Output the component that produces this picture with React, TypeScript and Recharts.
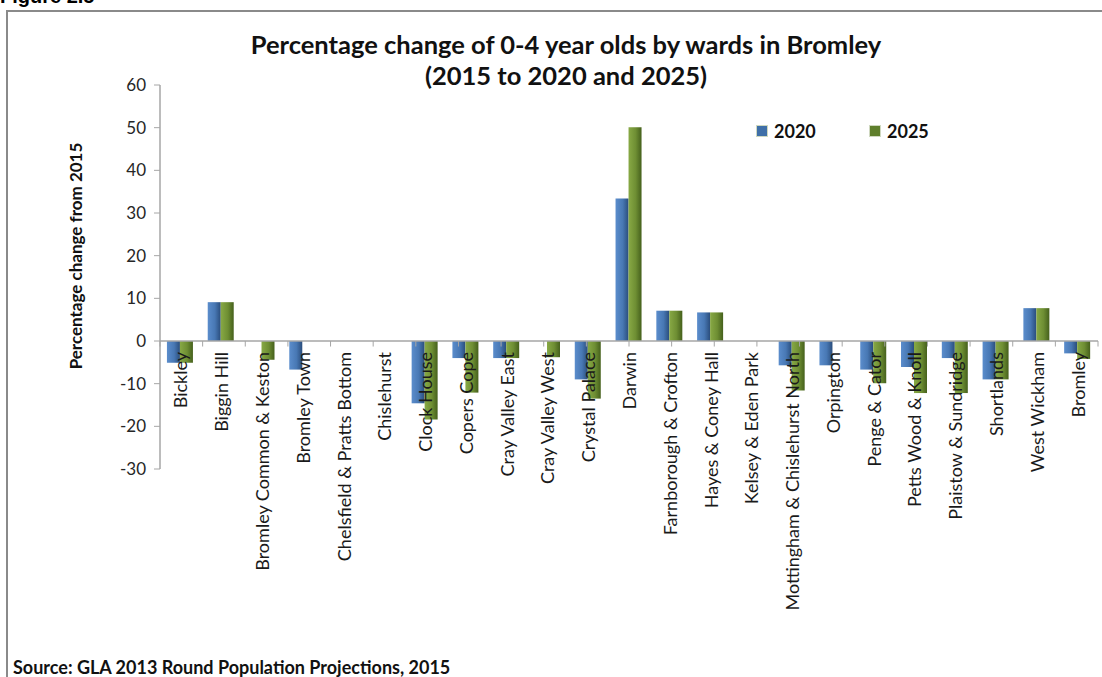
import { BarChart, Bar, XAxis, YAxis, ReferenceLine, ReferenceDot, Legend } from 'recharts';

const wards = [
  'Bickley',
  'Biggin Hill',
  'Bromley Common & Keston',
  'Bromley Town',
  'Chelsfield & Pratts Bottom',
  'Chislehurst',
  'Clock House',
  'Copers Cope',
  'Cray Valley East',
  'Cray Valley West',
  'Crystal Palace',
  'Darwin',
  'Farnborough & Crofton',
  'Hayes & Coney Hall',
  'Kelsey & Eden Park',
  'Mottingham & Chislehurst North',
  'Orpington',
  'Penge & Cator',
  'Petts Wood & Knoll',
  'Plaistow & Sundridge',
  'Shortlands',
  'West Wickham',
  'Bromley',
];

const change2020 = [-5.1, 9.1, 0, -6.7, 0, 0, -14.6, -4.0, -4.0, 0, -9.0, 33.4, 7.1, 6.7, 0, -5.7, -5.7, -6.7, -6.1, -4.0, -9.0, 7.7, -2.9];
const change2025 = [-5.1, 9.1, -4.4, 0, 0, 0, -18.4, -12.1, -4.0, -3.8, -13.5, 50.1, 7.1, 6.7, 0, -11.6, 0, -9.9, -12.2, -12.2, -9.0, 7.7, -4.2];

const yTicks = [-30, -20, -10, 0, 10, 20, 30, 40, 50, 60];
const boundaries = wards.map((_, i) => i).concat(wards.length);

const data = wards.map((ward, i) => ({ ward, y2020: change2020[i], y2025: change2025[i] }));

const series = [
  { key: 'y2020', name: '2020', fill: 'url(#blueBar)', swatch: '#3f6fa8' },
  { key: 'y2025', name: '2025', fill: 'url(#greenBar)', swatch: '#5f7f2c' },
];

const font = 'Lato, "Open Sans", sans-serif';

const renderWardLabel = (props: any) => {
  const { viewBox, value } = props;
  const x = viewBox.x;
  const y = viewBox.y + 11;
  return (
    <text
      x={x}
      y={y}
      transform={`rotate(-90 ${x} ${y})`}
      textAnchor="end"
      dominantBaseline="central"
      fontSize={18}
      fill="#1a1a1a"
      fontFamily={font}
    >
      {value}
    </text>
  );
};

const renderLegend = () => (
  <div style={{ display: 'flex', fontFamily: font, fontWeight: 700, fontSize: 18, color: '#111' }}>
    {series.map((s) => (
      <div key={s.key} style={{ display: 'flex', alignItems: 'center', width: 113 }}>
        <span style={{ width: 10, height: 10, background: s.swatch, marginRight: 6, border: '1px solid #cfd8c0' }} />
        <span>{s.name}</span>
      </div>
    ))}
  </div>
);

export default function App() {
  return (
    <div
      style={{
        position: 'absolute',
        left: 0,
        top: 0,
        width: 1102,
        height: 677,
        background: '#fff',
        overflow: 'hidden',
        fontFamily: font,
      }}
    >
      <div
        style={{
          position: 'absolute',
          left: 0,
          top: -15,
          fontFamily: '"Liberation Sans", Arial, sans-serif',
          fontWeight: 700,
          fontSize: 20,
          color: '#000',
        }}
      >
        Figure 2.5
      </div>
      <div
        style={{
          position: 'absolute',
          left: 6,
          top: 10,
          width: 1200,
          height: 800,
          borderLeft: '2px solid #8a8a8a',
          borderTop: '2px solid #8a8a8a',
        }}
      />
      <div
        style={{
          position: 'absolute',
          left: 0,
          width: 1132,
          top: 29,
          textAlign: 'center',
          fontWeight: 700,
          fontSize: 25.5,
          lineHeight: '31px',
          color: '#111',
        }}
      >
        Percentage change of 0-4 year olds by wards in Bromley
        <br />
        (2015 to 2020 and 2025)
      </div>
      <div
        style={{
          position: 'absolute',
          left: 75,
          top: 256,
          transform: 'translate(-50%, -50%) rotate(-90deg)',
          whiteSpace: 'nowrap',
          fontWeight: 700,
          fontSize: 17,
          color: '#111',
        }}
      >
        Percentage change from 2015
      </div>
      <div
        style={{
          position: 'absolute',
          left: 13,
          top: 656,
          whiteSpace: 'nowrap',
          fontWeight: 700,
          fontSize: 18,
          color: '#111',
        }}
      >
        Source: GLA 2013 Round Population Projections, 2015
      </div>
      <div style={{ position: 'absolute', left: 0, top: 0 }}>
        <BarChart
          width={1102}
          height={677}
          data={data}
          margin={{ top: 85, right: 4, bottom: 208, left: 100 }}
          barCategoryGap="17%"
          barGap={0}
        >
          <defs>
            <linearGradient id="blueBar" x1="0" y1="0" x2="1" y2="0">
              <stop offset="0" stopColor="#5b8dcc" />
              <stop offset="0.55" stopColor="#4878b4" />
              <stop offset="1" stopColor="#2a4d7c" />
            </linearGradient>
            <linearGradient id="greenBar" x1="0" y1="0" x2="1" y2="0">
              <stop offset="0" stopColor="#88a945" />
              <stop offset="0.55" stopColor="#6e8e33" />
              <stop offset="1" stopColor="#45601c" />
            </linearGradient>
          </defs>
          <XAxis xAxisId="cat" dataKey="ward" hide />
          <XAxis xAxisId="grid" type="number" domain={[0, wards.length]} allowDataOverflow hide />
          <YAxis
            width={60}
            domain={[-30, 60]}
            ticks={yTicks}
            interval={0}
            tick={{ fontSize: 17, fill: '#262626', fontFamily: font }}
            tickSize={6}
            tickMargin={8}
            axisLine={{ stroke: '#a6a6a6', strokeWidth: 1.5 }}
            tickLine={{ stroke: '#a6a6a6' }}
          />
          <Legend
            verticalAlign="middle"
            align="center"
            layout="horizontal"
            content={renderLegend}
            wrapperStyle={{ left: 756, top: 120, width: 240 }}
          />
          {series.map((s) => (
            <Bar key={s.key} xAxisId="cat" dataKey={s.key} name={s.name} fill={s.fill} isAnimationActive={false} />
          ))}
          <ReferenceLine xAxisId="cat" y={0} stroke="#a6a6a6" strokeWidth={1.5} />
          {boundaries.map((b) => (
            <ReferenceLine
              key={`tick-${b}`}
              xAxisId="grid"
              ifOverflow="visible"
              segment={[
                { x: b, y: 0 },
                { x: b, y: -1.3 },
              ]}
              stroke="#a6a6a6"
            />
          ))}
          {wards.map((w) => (
            <ReferenceDot
              key={`lab-${w}`}
              xAxisId="cat"
              x={w}
              y={0}
              r={0}
              fill="none"
              stroke="none"
              ifOverflow="visible"
              label={{ value: w, content: renderWardLabel }}
            />
          ))}
        </BarChart>
      </div>
    </div>
  );
}
